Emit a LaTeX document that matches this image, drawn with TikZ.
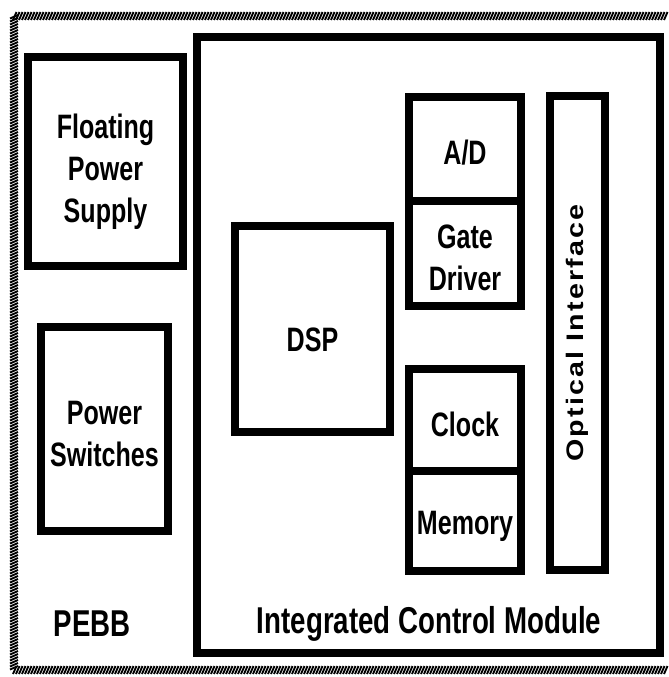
\documentclass[tikz,border=0pt]{standalone}
\usepackage{fontspec}
\setmainfont{Liberation Sans}
\newfontfamily\blockfont{Liberation Sans}[FakeStretch=0.74]
\newfontfamily\sidefont{Liberation Sans}[FakeStretch=1.2,LetterSpace=9]

\begin{document}
\begin{tikzpicture}[x=0.03cm,y=-0.03cm,
  blk/.style={draw,line width=6.3pt,inner sep=0pt},
  sz/.style 2 args={minimum width=#1*0.03cm,minimum height=#2*0.03cm},
  lbl/.style={align=center,inner sep=0pt,
    font=\blockfont\bfseries\fontsize{28.9}{35.7}\selectfont},
  tag/.style={font=\blockfont\bfseries\fontsize{31.9}{38}\selectfont},
  hatch/.style={line width=1.6pt}]
  \useasboundingbox (0,0) rectangle (668,677);
  % hatched frame, open at the right
  \foreach \x in {13,16,...,666} {
    \draw[hatch] (\x,20) -- (\x+3.5,12);
    \draw[hatch] (\x,674) -- (\x+3.5,666);
  }
  \foreach \y in {15,18,...,668}
    \draw[hatch] (10,\y+3.5) -- (18,\y);
  % PEBB part
  \node[blk,sz={155}{209},label={[lbl,yshift=-0.3cm]center:Floating\\Power\\Supply}] (fps) at (105.5,161.5) {};
  \node[blk,sz={127}{204},label={[lbl,yshift=-0.15cm]center:Power\\Switches}] (switch) at (104.5,429) {};
  \node[tag] (pebb) at (92,624) {PEBB};
  % control module
  \node[blk,line width=7.4pt,sz={463}{616}] (icm) at (428.5,345) {};
  \node[tag] (icmlabel) at (429,624) {Integrated Control Module};
  \node[blk,sz={155}{206},label={[lbl,yshift=-0.33cm]center:DSP}] (dsp) at (312.5,329) {};
  \node[blk,sz={112}{104},label={[lbl,yshift=-0.12cm]center:A/D}] (ad) at (465,149) {};
  \node[blk,sz={112}{105},label={[lbl,yshift=-0.12cm]center:Gate\\Driver}] (gate) at (465,253.5) {};
  \node[blk,sz={112}{102},label={[lbl,yshift=-0.12cm]center:Clock}] (clock) at (465,420) {};
  \node[blk,sz={112}{100},label={[lbl,yshift=-0.15cm]center:Memory}] (memory) at (465,521) {};
  \node[blk,rotate=90,sz={474}{55},font=\sidefont\bfseries\fontsize{20.4}{22}\selectfont]
    (optic) at (577.5,333) {Optical Interface};
\end{tikzpicture}
\end{document}
